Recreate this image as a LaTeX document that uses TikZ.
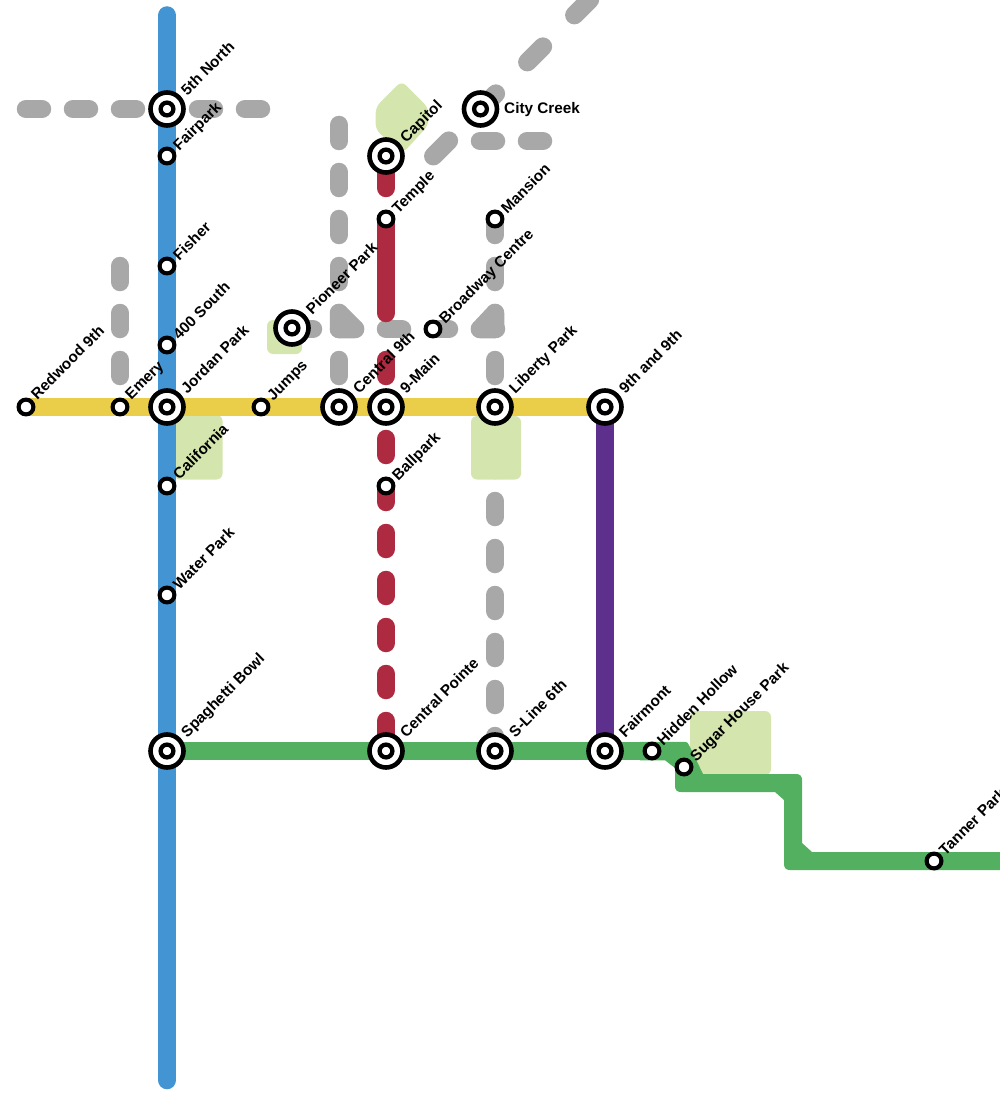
\documentclass[tikz,border=0pt]{standalone}
\usepackage{fontspec}
\setmainfont{Liberation Sans}
\usetikzlibrary{backgrounds}
\definecolor{cblue}{HTML}{4394D2}
\definecolor{cred}{HTML}{AE2A40}
\definecolor{cyellow}{HTML}{EACE49}
\definecolor{cpurple}{HTML}{5E308E}
\definecolor{cgreen}{HTML}{53B060}
\definecolor{cgray}{HTML}{A8A8A8}
\definecolor{cpark}{HTML}{D4E5AE}
\tikzset{
  x=1pt,y=-1pt,
  bigst/.style={circle,draw=black,fill=white,line width=4.6pt,minimum size=33pt,inner sep=0pt,
    path picture={\draw[black,line width=4.3pt] (path picture bounding box.center) circle[radius=6.4pt];}},
  smallst/.style={circle,draw=black,fill=white,line width=4.1pt,minimum size=14.8pt,inner sep=0pt},
  lbl/.style={font=\bfseries\fontsize{15.3pt}{17pt}\selectfont,text=black,inner sep=0pt,anchor=base west,xshift=2.2pt,yshift=-1.2pt,rotate=45},
  hlbl/.style={font=\bfseries\fontsize{15.3pt}{17pt}\selectfont,text=black,inner sep=0pt,anchor=base west},
  metro/.style={line width=18.5pt,line cap=round,line join=round},
  sub/.style={metro,cgray,dash pattern=on 16pt off 31pt},
  park/.style={fill=cpark,rounded corners=6pt},
}
\begin{document}
\begin{tikzpicture}
\useasboundingbox (0,0) rectangle (1000,1094);
\clip (0,0) rectangle (1000,1094);
% free ends
\coordinate (blueT) at (167,15.5);
\coordinate (blueB) at (167,1080);
\coordinate (gA1) at (26,109);
\coordinate (gA2) at (136,109);
\coordinate (gB1) at (198,109);
\coordinate (gB2) at (261,109);
\coordinate (gC1) at (120,266);
\coordinate (gC2) at (120,376);
\coordinate (gD1) at (339,125);
\coordinate (gD2) at (339,376);
\coordinate (gE1) at (480,141);
\coordinate (gE2) at (543,141);
\coordinate (gF1) at (433.3,156.2);
\coordinate (gF2) at (600,-10.5);
\coordinate (gG1) at (339,329);
\coordinate (gG2) at (496,329);
\coordinate (gH) at (313,329);
\coordinate (gH0) at (292,329);
\coordinate (gM) at (495,751);
\coordinate (rA) at (386,188);
\coordinate (rB) at (386,313);
\coordinate (rC1) at (386,360);
\coordinate (rC2) at (386,376);
\coordinate (rD) at (386,439);
% stations
\node[bigst] (north) at (167,109) {};
\node[bigst] (capitol) at (386,156) {};
\node[bigst] (city) at (480.5,109) {};
\node[bigst] (pioneer) at (292,328) {};
\node[bigst] (jordan) at (167,407) {};
\node[bigst] (central) at (339,407) {};
\node[bigst] (main) at (386,407) {};
\node[bigst] (liberty) at (495,407) {};
\node[bigst] (nine) at (605,407) {};
\node[bigst] (spag) at (167,751) {};
\node[bigst] (pointe) at (386,751) {};
\node[bigst] (sline) at (495,751) {};
\node[bigst] (fair) at (605,751) {};
\node[smallst] (fairpark) at (167,156) {};
\node[smallst] (fisher) at (167,266) {};
\node[smallst] (south) at (167,345) {};
\node[smallst] (temple) at (386,219) {};
\node[smallst] (mansion) at (495,219) {};
\node[smallst] (broadway) at (433,329) {};
\node[smallst] (redwood) at (26,407) {};
\node[smallst] (emery) at (120,407) {};
\node[smallst] (jumps) at (261,407) {};
\node[smallst] (calif) at (167,486) {};
\node[smallst] (ballpark) at (386,486) {};
\node[smallst] (water) at (167,595) {};
\node[smallst] (hidden) at (652,751) {};
\node[smallst] (sugar) at (684,767) {};
\node[smallst] (tanner) at (934,861) {};
% labels
\node[lbl] (l1) at (185,95) {5th North};
\node[lbl] (l2) at (177,150) {Fairpark};
\node[lbl] (l3) at (177,260) {Fisher};
\node[lbl] (l4) at (177,339) {400 South};
\node[lbl] (l5) at (185,393) {Jordan Park};
\node[lbl] (l6) at (35,399) {Redwood 9th};
\node[lbl] (l7) at (129,399) {Emery};
\node[lbl] (l8) at (271,400) {Jumps};
\node[lbl] (l9) at (357,393) {Central 9th};
\node[lbl] (l10) at (404,393) {9-Main};
\node[lbl] (l11) at (513,393) {Liberty Park};
\node[lbl] (l12) at (623,393) {9th and 9th};
\node[lbl] (l13) at (177,479) {California};
\node[lbl] (l14) at (396,480) {Ballpark};
\node[lbl] (l15) at (177,589) {Water Park};
\node[lbl] (l16) at (185,737) {Spaghetti Bowl};
\node[lbl] (l17) at (404,737) {Central Pointe};
\node[lbl] (l18) at (513,737) {S-Line 6th};
\node[lbl] (l19) at (623,737) {Fairmont};
\node[lbl] (l20) at (661,745) {Hidden Hollow};
\node[lbl] (l21) at (694,761) {Sugar House Park};
\node[lbl] (l22) at (943,855) {Tanner Park};
\node[lbl] (l23) at (404,142) {Capitol};
\node[lbl] (l24) at (396,213) {Temple};
\node[lbl] (l25) at (505,213) {Mansion};
\node[lbl] (l26) at (443,323) {Broadway Centre};
\node[lbl] (l27) at (310,314) {Pioneer Park};
\node[hlbl] (l28) at (504,114) {City Creek};
\begin{scope}[on background layer]
  % grey lines
  \draw[sub] (gA1) -- (gA2);
  \draw[sub] (gB1) -- (gB2);
  \draw[sub] (gC1) -- (gC2);
  \draw[sub] (gD1) -- (gD2);
  \draw[sub] (gE1) -- (gE2);
  \draw[sub,dash pattern=on 22pt off 44.5pt] (gF1) -- (gF2);
  \draw[sub] (gG1) -- (gG2);
  \draw[metro,cgray] (gH0) -- (gH);
  \draw[sub] (mansion.center) -- (gM);
  \filldraw[metro,cgray] (339,313) -- (355,329) -- (339,329) -- cycle;
  \filldraw[metro,cgray] (495,313) -- (480,329) -- (495,329) -- cycle;
  % parks
  \fill[park] (174,415) rectangle (222.5,479.5);
  \fill[park] (471,416) rectangle (521,479.5);
  \fill[park] (267,320) rectangle (302,354);
  \fill[park] (690,711) rectangle (771,775);
  \fill[park] (401.7,81) -- (428.5,108) -- (428.5,125) -- (403,153) -- (375.7,130) -- (375.7,107) -- cycle;
  % green
  \draw[metro,cgreen,line cap=butt] (spag.center) -- (hidden.center);
  \fill[cgreen] (640,741.75) -- (685,741.75) .. controls (687,741.75) and (688,743) .. (689,745)
     -- (703,774) -- (796,774) .. controls (800,774) and (802,776) .. (802,780) -- (802,843)
     -- (812,852) -- (1012,852) -- (1012,870) -- (790,870) .. controls (786,870) and (784,868) .. (784,864)
     -- (784,800) -- (775,792) -- (681,792) .. controls (677,792) and (675,790) .. (675,786)
     -- (675,768) -- (665,760.25) -- (640,760.25) -- cycle;
  % yellow
  \draw[metro,cyellow] (redwood.center) -- (nine.center);
  % purple
  \draw[metro,cpurple,line cap=butt] (nine.center) -- (fair.center);
  % red
  \draw[metro,cred] (capitol.center) -- (rA);
  \draw[metro,cred] (temple.center) -- (rB);
  \draw[metro,cred] (rC1) -- (rC2);
  \draw[sub,cred] (rD) -- (pointe.center);
  % blue
  \draw[metro,cblue] (blueT) -- (blueB);
\end{scope}
\end{tikzpicture}
\end{document}
